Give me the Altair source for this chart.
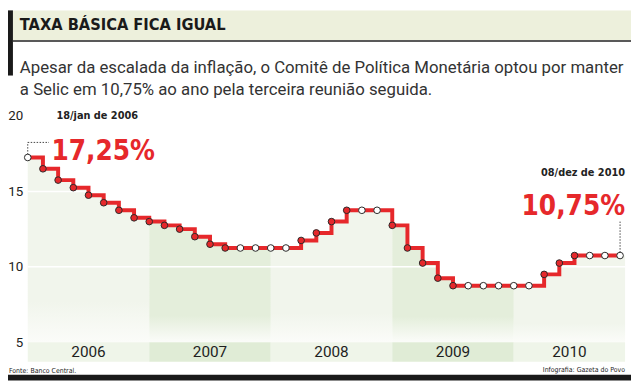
import altair as alt
import pandas as pd

# ---------------- data ----------------
values = [17.25, 16.50, 15.75, 15.25, 14.75, 14.25, 13.75, 13.25,
          13.00, 12.75, 12.50, 12.00, 11.50, 11.25, 11.25, 11.25,
          11.25, 11.25, 11.75, 12.25, 13.00, 13.75, 13.75, 13.75,
          12.75, 11.25, 10.25, 9.25, 8.75, 8.75, 8.75, 8.75,
          8.75, 8.75, 9.50, 10.25, 10.75, 10.75, 10.75, 10.75]
years = ["2006", "2007", "2008", "2009", "2010"]
meetings_per_year = 8
y_ticks = [5, 10, 15, 20]
grid_values = [10, 15]
title_text = ["TAXA BÁSICA FICA IGUAL"]
subtitle_lines = ["Apesar da escalada da inflação, o Comitê de Política Monetária optou por manter",
                  "a Selic em 10,75% ao ano pela terceira reunião seguida."]
first_date = ["18/jan de 2006"]
first_value = ["17,25%"]
last_date = ["08/dez de 2010"]
last_value = ["10,75%"]
source_text = ["Fonte: Banco Central."]
credit_text = ["Infografia: Gazeta do Povo"]

X_MAX = 39.33
Y_MIN = 3.7
BASE = 5
RED = "#e6282b"
NARROW = "Liberation Sans Narrow, DejaVu Sans Condensed, Roboto Condensed, Roboto, sans-serif"
BODY = "Roboto, sans-serif"
W = 605

# ---------------- tables ----------------
n = len(values)
pts = pd.DataFrame({
    "i": list(range(n)),
    "v": values,
    "fill": ["white"] + [RED if values[k] != values[k - 1] else "white" for k in range(1, n)],
})

area_rows = []
band_rows = []
for k, yr in enumerate(years):
    start = k * meetings_per_year
    end = min(start + meetings_per_year, n)
    x_end = float(end) if end < n else X_MAX
    tone = "light" if k % 2 == 0 else "dark"
    for i in range(start, end):
        area_rows.append({"x": i, "v": values[i], "base": BASE, "year": yr, "tone": tone})
    area_rows.append({"x": x_end, "v": values[end - 1], "base": BASE, "year": yr, "tone": tone})
    band_rows.append({"year": yr, "x0": start, "x1": x_end, "mid": (start + x_end) / 2,
                      "y0": Y_MIN, "y1": BASE, "ym": (Y_MIN + BASE) / 2, "tone": tone})
area_df = pd.DataFrame(area_rows)
band_df = pd.DataFrame(band_rows)

xs = alt.Scale(domain=[0, X_MAX], nice=False, zero=False)
ys = alt.Scale(domain=[Y_MIN, 20], nice=False, zero=False)


def grad(c):
    return alt.Gradient(gradient="linear",
                        stops=[alt.GradientStop(color=c, offset=0),
                               alt.GradientStop(color=c, offset=0.78),
                               alt.GradientStop(color="#fbfcf9", offset=1)],
                        x1=1, x2=1, y1=0, y2=1)


def area_layer(tone, c):
    return alt.Chart(area_df[area_df.tone == tone]).mark_area(
        interpolate="step-after", color=grad(c)
    ).encode(
        x=alt.X("x:Q", scale=xs, axis=None),
        y=alt.Y("v:Q", scale=ys,
                axis=alt.Axis(values=y_ticks, title="", domain=False, ticks=False, grid=False,
                              labelPadding=5, labelFont=BODY, labelFontSize=13.5,
                              labelColor="#222222")),
        y2="base:Q",
        detail="year:N",
    )


area_light = area_layer("light", "#f1f5ec")
area_dark = area_layer("dark", "#e4eedb")

grid = alt.Chart(pd.DataFrame({"g": grid_values})).mark_rule(color="white", strokeWidth=1.5).encode(
    y=alt.Y("g:Q", scale=ys), x=alt.value(0), x2=alt.value(W))

strip = alt.Chart(band_df).mark_rect().encode(
    x=alt.X("x0:Q", scale=xs), x2="x1:Q",
    y=alt.Y("y0:Q", scale=ys), y2="y1:Q",
    color=alt.Color("tone:N", scale=alt.Scale(domain=["light", "dark"], range=["#eff5e9", "#e0ecd6"]),
                    legend=None),
)
year_text = alt.Chart(band_df).mark_text(font=BODY, fontSize=15.5, color="#1e1e1e", baseline="middle").encode(
    x=alt.X("mid:Q", scale=xs), y=alt.Y("ym:Q", scale=ys), text="year:N")

# dotted leader lines
lead1 = alt.Chart(pd.DataFrame({"x": [0], "y": [17.25], "y2": [18.25]})).mark_rule(
    color="#444444", strokeWidth=1, strokeDash=[1.5, 1.5]).encode(
    x=alt.X("x:Q", scale=xs), y=alt.Y("y:Q", scale=ys), y2="y2:Q")
lead2 = alt.Chart(pd.DataFrame({"x": [0], "x2": [1.4], "y": [18.25]})).mark_rule(
    color="#444444", strokeWidth=1, strokeDash=[1.5, 1.5]).encode(
    x=alt.X("x:Q", scale=xs), x2="x2:Q", y=alt.Y("y:Q", scale=ys))
lead3 = alt.Chart(pd.DataFrame({"x": [n - 1], "y": [values[-1]], "y2": [13.0]})).mark_rule(
    color="#444444", strokeWidth=1, strokeDash=[1.5, 1.5]).encode(
    x=alt.X("x:Q", scale=xs), y=alt.Y("y:Q", scale=ys), y2="y2:Q")

line = alt.Chart(pts).mark_line(interpolate="step-after", color=RED, strokeWidth=4).encode(
    x=alt.X("i:Q", scale=xs), y=alt.Y("v:Q", scale=ys))
dots = alt.Chart(pts).mark_point(filled=True, size=45, stroke="#2a2a2a", strokeWidth=1, opacity=1).encode(
    x=alt.X("i:Q", scale=xs), y=alt.Y("v:Q", scale=ys),
    fill=alt.Fill("fill:N", scale=None))


def txt(lst, x, y, **kw):
    return alt.Chart(pd.DataFrame({"t": lst})).mark_text(**kw).encode(
        text="t:N", x=alt.value(x), y=alt.value(y))


ann = [
    txt(first_date, 29, 0, font=NARROW, fontSize=11, fontWeight="bold", color="#222222",
        align="left", baseline="middle"),
    txt(first_value, 24, 45, font=NARROW, fontSize=28, fontWeight="bold", color=RED,
        align="left", baseline="alphabetic"),
    txt(last_date, W, 58, font=NARROW, fontSize=11, fontWeight="bold", color="#222222",
        align="right", baseline="middle"),
    txt(last_value, W, 100, font=NARROW, fontSize=28, fontWeight="bold", color=RED,
        align="right", baseline="alphabetic"),
]

# header
head_band = alt.Chart(pd.DataFrame({"a": [0]})).mark_rect(color="#edf0dc").encode(
    x=alt.value(-15), x2=alt.value(W + 6), y=alt.value(-107), y2=alt.value(-77))
head_rule = alt.Chart(pd.DataFrame({"a": [0]})).mark_rule(color="#222222", strokeWidth=1.5).encode(
    x=alt.value(-15), x2=alt.value(W + 6), y=alt.value(-76))
head_bar = alt.Chart(pd.DataFrame({"a": [0]})).mark_rect(color="#1a1a1a").encode(
    x=alt.value(-20), x2=alt.value(-15), y=alt.value(-107), y2=alt.value(-41))
title = txt(title_text, -8, -87, font=NARROW, fontSize=16.5, fontWeight="bold", color="#1a1a1a",
            align="left", baseline="alphabetic")
sub1 = txt(subtitle_lines[:1], -8, -44, font=BODY, fontSize=17, color="#333333",
           align="left", baseline="alphabetic")
sub2 = txt(subtitle_lines[1:], -8, -21, font=BODY, fontSize=17, color="#333333",
           align="left", baseline="alphabetic")

# footer
src = txt(source_text, -19, 258, font=NARROW, fontSize=7, color="#222222", align="left", baseline="middle")
cred = txt(credit_text, W, 257, font=NARROW, fontSize=7, color="#222222", align="right", baseline="middle")
foot_bar = alt.Chart(pd.DataFrame({"a": [0]})).mark_rect(color="#1a1a1a").encode(
    x=alt.value(-20), x2=alt.value(W + 6), y=alt.value(262), y2=alt.value(268))

chart = alt.layer(
    head_band, head_rule, head_bar, title, sub1, sub2,
    area_light, area_dark, grid, strip, year_text,
    lead1, lead2, lead3, line, dots, *ann,
    src, cred, foot_bar,
).properties(
    width=W, height=249,
    autosize=alt.AutoSizeParams(type="none"),
    padding={"left": 20, "top": 107, "right": 6, "bottom": 19},
).configure_view(stroke=None)

chart.save("out.html", embed_options={"renderer": "svg", "actions": False})
